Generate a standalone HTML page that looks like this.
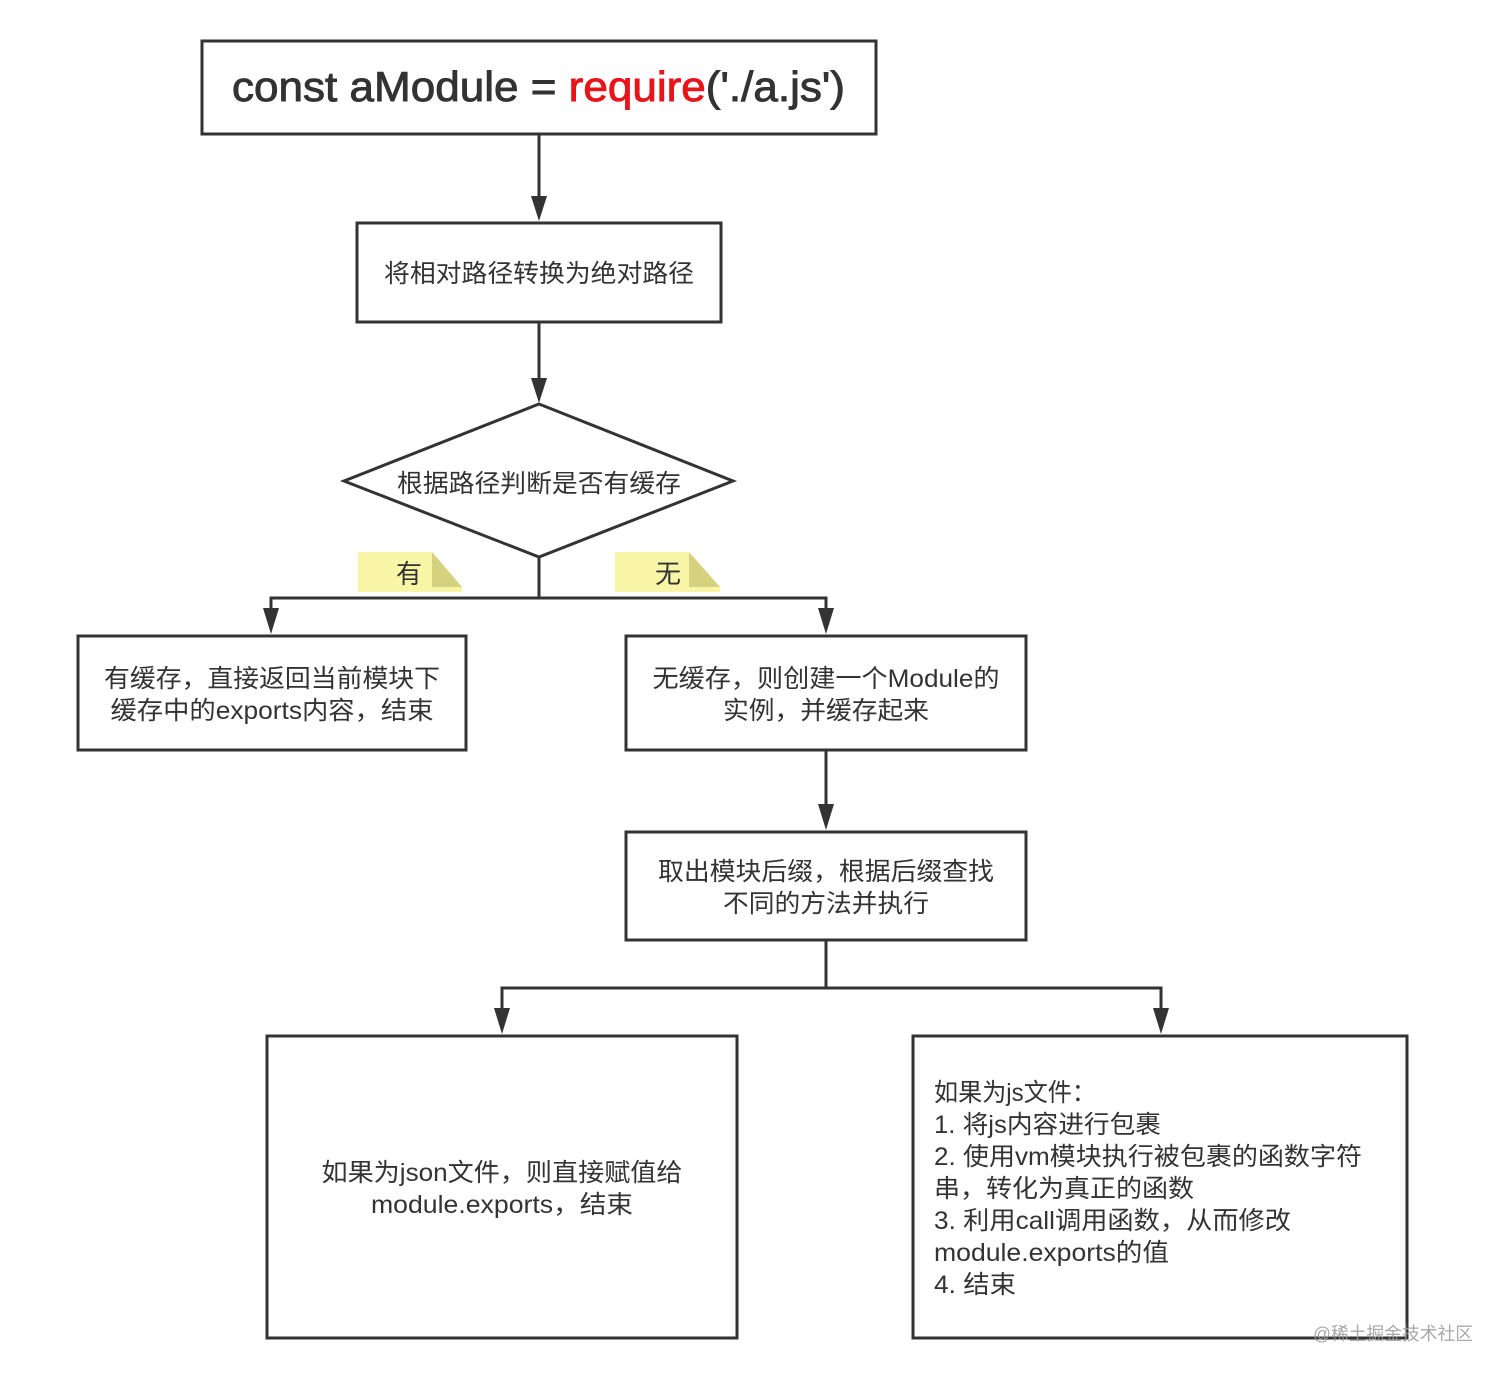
<!DOCTYPE html>
<html><head><meta charset="utf-8"><style>
html,body{margin:0;padding:0;background:#fff;}
svg{display:block;}
text{font-family:"Liberation Sans","Noto Sans CJK SC",sans-serif;fill:#333;}
</style></head><body>
<svg width="1508" height="1378" viewBox="0 0 1508 1378" xmlns="http://www.w3.org/2000/svg">
<g fill="none" stroke="#333" stroke-width="3">
<rect x="202" y="41" width="674" height="93"/>
<rect x="357" y="223" width="364" height="99"/>
<polygon points="539,404 733,481 539,557 344,481" stroke-linejoin="miter"/>
<rect x="78" y="636" width="388" height="114"/>
<rect x="626" y="636" width="400" height="114"/>
<rect x="626" y="832" width="400" height="108"/>
<rect x="267" y="1036" width="470" height="302"/>
<rect x="913" y="1036" width="494" height="302"/>
<!-- connectors -->
<line x1="539" y1="134" x2="539" y2="200"/>
<line x1="539" y1="322" x2="539" y2="382"/>
<polyline points="539,557 539,598"/>
<polyline points="271,612 271,598 826,598 826,612"/>
<line x1="826" y1="750" x2="826" y2="808"/>
<polyline points="826,940 826,988"/>
<polyline points="502,1012 502,988 1161,988 1161,1012"/>
</g>
<g fill="#333">
<polygon points="531,196 547,196 539,221"/>
<polygon points="531,378 547,378 539,403"/>
<polygon points="263,608 279,608 271,634"/>
<polygon points="818,608 834,608 826,634"/>
<polygon points="818,804 834,804 826,830"/>
<polygon points="494,1008 510,1008 502,1034"/>
<polygon points="1153,1008 1169,1008 1161,1034"/>
</g>
<!-- notes -->
<rect x="358" y="552" width="74" height="40" fill="#f8f6a6"/>
<rect x="432" y="587" width="30" height="5" fill="#f8f6a6"/>
<polygon points="432,552 432,587 462,587" fill="#d4d27e"/>
<text x="409" y="583" font-size="26" text-anchor="middle">有</text>
<rect x="615" y="552" width="74" height="40" fill="#f8f6a6"/>
<rect x="689" y="587" width="31" height="5" fill="#f8f6a6"/>
<polygon points="689,552 689,587 720,587" fill="#d4d27e"/>
<text x="668" y="583" font-size="26" text-anchor="middle">无</text>
<!-- texts -->
<text x="232" y="101" font-size="42" textLength="613" lengthAdjust="spacingAndGlyphs" stroke="#333" stroke-width="0.9">const aModule = <tspan fill="#e8141b" stroke="#e8141b">require</tspan>('./a.js')</text>
<text x="539" y="282" font-size="25" text-anchor="middle" textLength="310" lengthAdjust="spacingAndGlyphs">将相对路径转换为绝对路径</text>
<text x="539" y="492" font-size="25" text-anchor="middle" textLength="284" lengthAdjust="spacingAndGlyphs">根据路径判断是否有缓存</text>
<text x="272" y="687" font-size="25" text-anchor="middle" textLength="336" lengthAdjust="spacingAndGlyphs">有缓存，直接返回当前模块下</text>
<text x="272" y="719" font-size="25" text-anchor="middle" textLength="323" lengthAdjust="spacingAndGlyphs">缓存中的exports内容，结束</text>
<text x="826" y="687" font-size="25" text-anchor="middle" textLength="347" lengthAdjust="spacingAndGlyphs">无缓存，则创建一个Module的</text>
<text x="826" y="719" font-size="25" text-anchor="middle" textLength="206" lengthAdjust="spacingAndGlyphs">实例，并缓存起来</text>
<text x="826" y="880" font-size="25" text-anchor="middle" textLength="336" lengthAdjust="spacingAndGlyphs">取出模块后缀，根据后缀查找</text>
<text x="826" y="912" font-size="25" text-anchor="middle" textLength="206" lengthAdjust="spacingAndGlyphs">不同的方法并执行</text>
<text x="502" y="1181" font-size="25" text-anchor="middle" textLength="361" lengthAdjust="spacingAndGlyphs">如果为json文件，则直接赋值给</text>
<text x="502" y="1213" font-size="25" text-anchor="middle" textLength="262" lengthAdjust="spacingAndGlyphs">module.exports，结束</text>
<text x="934" y="1101" font-size="25" textLength="162" lengthAdjust="spacingAndGlyphs">如果为js文件：</text>
<text x="934" y="1133" font-size="25" textLength="227" lengthAdjust="spacingAndGlyphs">1. 将js内容进行包裹</text>
<text x="934" y="1165" font-size="25" textLength="428" lengthAdjust="spacingAndGlyphs">2. 使用vm模块执行被包裹的函数字符</text>
<text x="934" y="1197" font-size="25" textLength="260" lengthAdjust="spacingAndGlyphs">串，转化为真正的函数</text>
<text x="934" y="1229" font-size="25" textLength="357" lengthAdjust="spacingAndGlyphs">3. 利用call调用函数，从而修改</text>
<text x="934" y="1261" font-size="25" textLength="235" lengthAdjust="spacingAndGlyphs">module.exports的值</text>
<text x="934" y="1293" font-size="25" textLength="82" lengthAdjust="spacingAndGlyphs">4. 结束</text>
<text x="1313" y="1340" font-size="18" textLength="160" lengthAdjust="spacingAndGlyphs" style="fill:#9a9a9a;opacity:0.85">@稀土掘金技术社区</text>
</svg>
</body></html>
